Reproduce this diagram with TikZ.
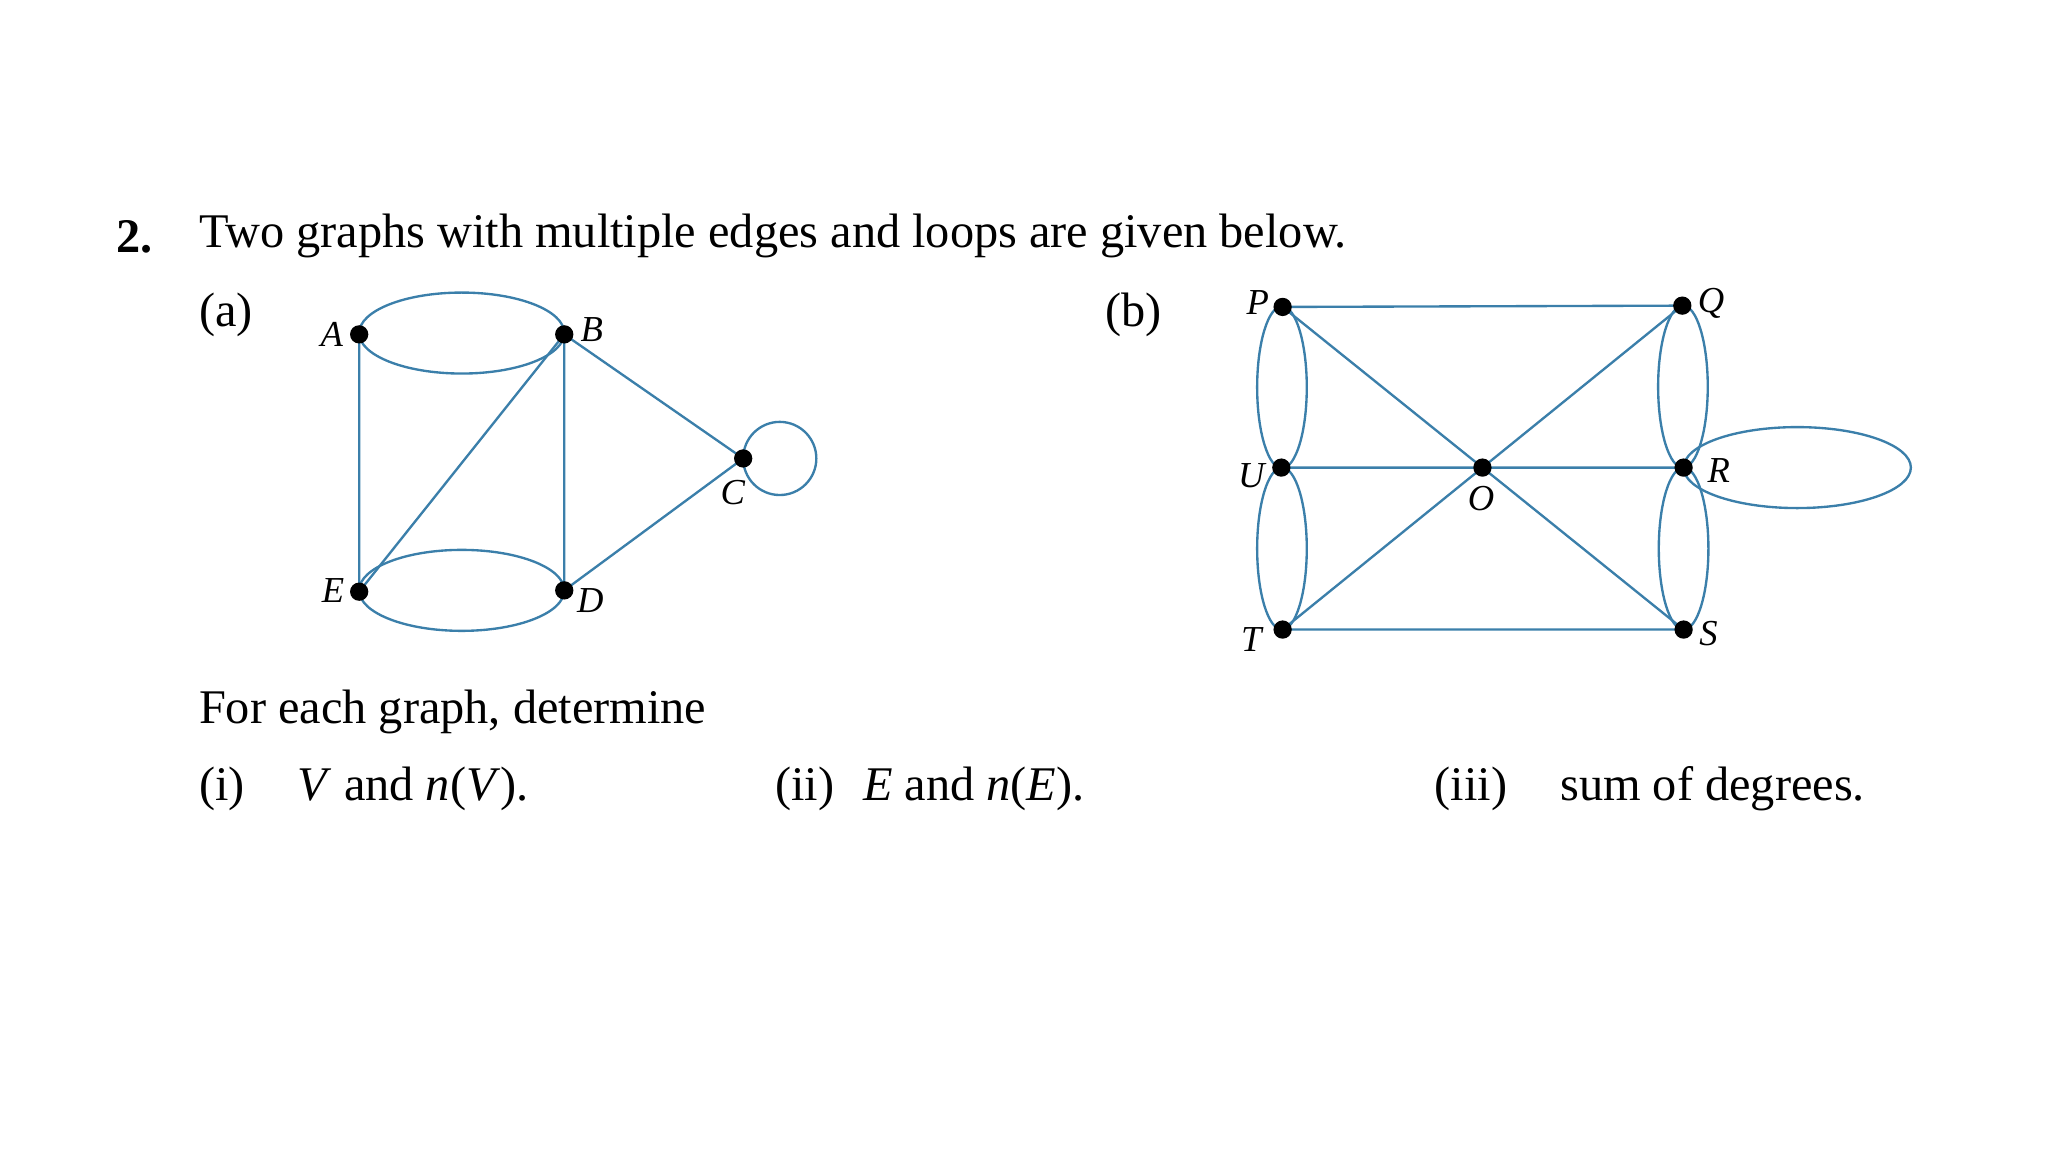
\documentclass[tikz,border=0pt]{standalone}
\usepackage{fontspec}
\setmainfont{Liberation Serif}
\begin{document}
\begin{tikzpicture}[x=0.5pt,y=-0.5pt,
  v/.style={circle,fill=black,inner sep=0pt,minimum size=7pt},
  e/.style={draw=cyan!80!blue!70!black,line width=0.9pt},
  lab/.style={font=\fontsize{14}{14}\selectfont\itshape,inner sep=0pt},
  txt/.style={font=\fontsize{18.5}{20}\selectfont,anchor=west,inner sep=0pt}]
\useasboundingbox (0,0) rectangle (1568,882);
\colorlet{ec}{cyan!80!blue!70!black}
\node[txt,font=\fontsize{18.5}{20}\selectfont\bfseries] (n2) at (89,181) {2.};
\node[txt] (t1) at (152,181) {Two graphs with multiple edges and loops are given below.};
\node[txt] (ta) at (152,241) {(a)};
\node[txt] (tb) at (846,241) {(b)};
\node[txt] (t2) at (152,545) {For each graph, determine};
\node[txt] (t3) at (152,604) {(i)\hspace{1.1em}\textit{V} and \textit{n}(\textit{V}).};
\node[txt] (t4) at (593,604) {(ii)\hspace{0.6em}\textit{E} and \textit{n}(\textit{E}).};
\node[txt] (t5) at (1098,604) {(iii)\hspace{1.1em}sum of degrees.};
% graph a
\coordinate (A) at (275,256); \coordinate (B) at (432,256); \coordinate (C) at (569,351);
\coordinate (D) at (432,452); \coordinate (E) at (275,453);
\draw[e] (353.5,255) ellipse [x radius=78.5,y radius=31];
\draw[e] (353.5,452) ellipse [x radius=78.5,y radius=31];
\draw[e] (597,351) circle [radius=28];
\draw[e] (A)--(E) (E)--(B) (B)--(D) (B)--(C) (C)--(D);
\foreach \n in {A,B,C,D,E} \node[v] (v\n) at (\n) {};
\node[lab] (lA) at (254,256) {A};
\node[lab] (lB) at (453,252) {B};
\node[lab] (lC) at (561,377) {C};
\node[lab] (lD) at (452,460) {D};
\node[lab] (lE) at (255,452) {E};
% graph b
\coordinate (P) at (982,235); \coordinate (Q) at (1288,234); \coordinate (U) at (981,358);
\coordinate (O) at (1135,358); \coordinate (R) at (1289,358); \coordinate (T) at (982,482);
\coordinate (S) at (1289,482);
\draw[e] (981.5,296.5) ellipse [x radius=19,y radius=62];
\draw[e] (981.5,420) ellipse [x radius=19,y radius=62];
\draw[e] (1288.5,296) ellipse [x radius=19,y radius=62];
\draw[e] (1289,420) ellipse [x radius=19,y radius=62];
\draw[e] (1376,358) ellipse [x radius=87,y radius=31];
\draw[e] (P)--(Q) (T)--(S) (U)--(O) (O)--(R) (P)--(O) (O)--(S) (Q)--(O) (O)--(T);
\foreach \n in {P,Q,U,O,R,T,S} \node[v] (v\n) at (\n) {};
\node[lab] (lP) at (963,232) {P};
\node[lab] (lQ) at (1310,232) {Q};
\node[lab] (lU) at (958,364) {U};
\node[lab] (lO) at (1134,382) {O};
\node[lab] (lR) at (1316,360) {R};
\node[lab] (lT) at (958,490) {T};
\node[lab] (lS) at (1308,485) {S};
\end{tikzpicture}
\end{document}
